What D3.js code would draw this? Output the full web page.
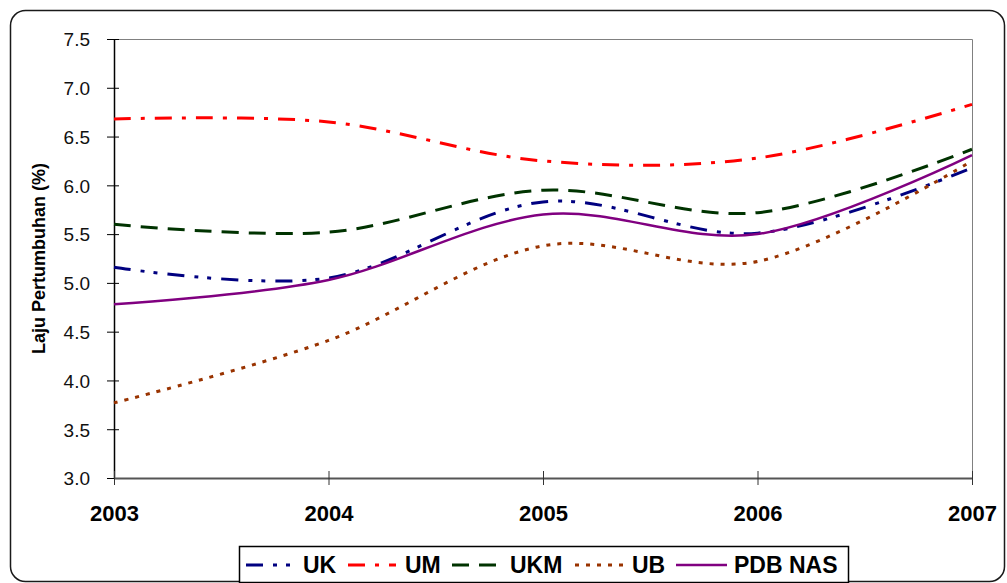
<!DOCTYPE html>
<html>
<head>
<meta charset="utf-8">
<script src="https://cdn.jsdelivr.net/npm/d3@7"></script>
<style>
  body { margin: 0; background: #fff; }
  text { font-family: Arial, "Liberation Sans", sans-serif; }
</style>
</head>
<body>
<div id="chart"></div>
<script>
// Data
const years = ["2003", "2004", "2005", "2006", "2007"];
const yTicks = [3.0, 3.5, 4.0, 4.5, 5.0, 5.5, 6.0, 6.5, 7.0, 7.5];

const seriesNames = ["UK", "UM", "UKM", "UB", "PDB NAS"];
const ukValues  = [5.16, 5.05, 5.83, 5.51, 6.18];
const umValues  = [6.68, 6.65, 6.25, 6.28, 6.83];
const ukmValues = [5.60, 5.52, 5.95, 5.72, 6.37];
const ubValues  = [3.77, 4.41, 5.38, 5.22, 6.25];
const pdbValues = [4.78, 5.03, 5.70, 5.50, 6.31];

const series = [
  {name: "UK", values: ukValues, color: "#000080", dash: "17,10,4,9,4,10", width: 3},
  {name: "UM", values: umValues, color: "#ff0000", dash: "17,10,4,10", width: 3},
  {name: "UKM", values: ukmValues, color: "#003300", dash: "17,10", width: 3},
  {name: "UB", values: ubValues, color: "#993300", dash: "4,7", width: 3},
  {name: "PDB NAS", values: pdbValues, color: "#800080", dash: null, width: 2.5}
];

const W = 1007, H = 583;
const margin = {top: 39, right: 35, bottom: 105, left: 114};
const width = 972 - margin.left,
      height = 478 - margin.top;

const root = d3.select("#chart")
  .append("svg")
    .attr("width", W)
    .attr("height", H);

// outer rounded frame
root.append("rect")
  .attr("x", 10.5).attr("y", 10.5)
  .attr("width", 994).attr("height", 571)
  .attr("rx", 15)
  .attr("fill", "none")
  .attr("stroke", "#1a1a1a")
  .attr("stroke-width", 1.5);

const svg = root.append("g")
  .attr("transform", "translate(" + margin.left + "," + margin.top + ")");

const x = d3.scalePoint()
  .domain(years)
  .range([0, width]);

const y = d3.scaleLinear()
  .domain([3, 7.5])
  .range([height, 0]);

// plot area border (top & right grey)
svg.append("path")
  .attr("d", "M0,0.5H" + (width + 0.5) + "V" + height)
  .attr("fill", "none")
  .attr("stroke", "#808080")
  .attr("stroke-width", 1);

// Y axis
const yAxis = svg.append("g")
  .call(d3.axisLeft(y).tickValues(yTicks).tickFormat(d3.format(".1f")).tickSizeInner(7).tickSizeOuter(0));
yAxis.select(".domain").attr("stroke", "#000").attr("stroke-width", 1.5);
yAxis.selectAll(".tick line").attr("x2", 5).attr("x1", -7).attr("stroke", "#000");
yAxis.selectAll(".tick text")
  .attr("x", -24)
  .attr("dy", "0.36em")
  .style("font-size", "19px")
  .style("fill", "#111");

// X axis
const xAxis = svg.append("g")
  .attr("transform", "translate(0," + height + ")")
  .call(d3.axisBottom(x).tickSizeInner(7).tickSizeOuter(0));
xAxis.select(".domain").attr("stroke", "#555").attr("stroke-width", 2);
xAxis.selectAll(".tick line").attr("y1", -7).attr("y2", 7).attr("stroke", "#333");
xAxis.selectAll(".tick text")
  .attr("y", 43)
  .attr("dy", 0)
  .style("font-size", "22px")
  .style("font-weight", "bold")
  .style("fill", "#000");

// Y axis title
root.append("text")
  .attr("transform", "translate(45," + (margin.top + height / 2) + ") rotate(-90)")
  .attr("text-anchor", "middle")
  .style("font-size", "18px")
  .style("font-weight", "bold")
  .text("Laju Pertumbuhan (%)");

// lines (Excel-style smoothing)
const line = d3.line()
  .x((d, i) => x(years[i]))
  .y(d => y(d))
  .curve(d3.curveCardinal.tension(0));

series.forEach(s => {
  svg.append("path")
    .datum(s.values)
    .attr("fill", "none")
    .attr("stroke", s.color)
    .attr("stroke-width", s.width)
    .attr("stroke-dasharray", s.dash)
    .attr("d", line);
});

// Legend
const legend = root.append("g");
legend.append("rect")
  .attr("x", 239.5).attr("y", 546.5)
  .attr("width", 609).attr("height", 36)
  .attr("fill", "#fff")
  .attr("stroke", "#000")
  .attr("stroke-width", 1.5);

const legendX = [246, 348, 452, 575, 676];
const labelX = [303, 405, 510, 632, 734];
series.forEach((s, i) => {
  legend.append("line")
    .attr("x1", legendX[i]).attr("x2", legendX[i] + (s.name === "PDB NAS" ? 51 : 48))
    .attr("y1", 565).attr("y2", 565)
    .attr("stroke", s.color)
    .attr("stroke-width", s.width)
    .attr("stroke-dasharray", s.dash);
  legend.append("text")
    .attr("x", labelX[i])
    .attr("y", 573)
    .style("font-size", "23px")
    .style("font-weight", "bold")
    .text(s.name);
});
</script>
</body>
</html>
